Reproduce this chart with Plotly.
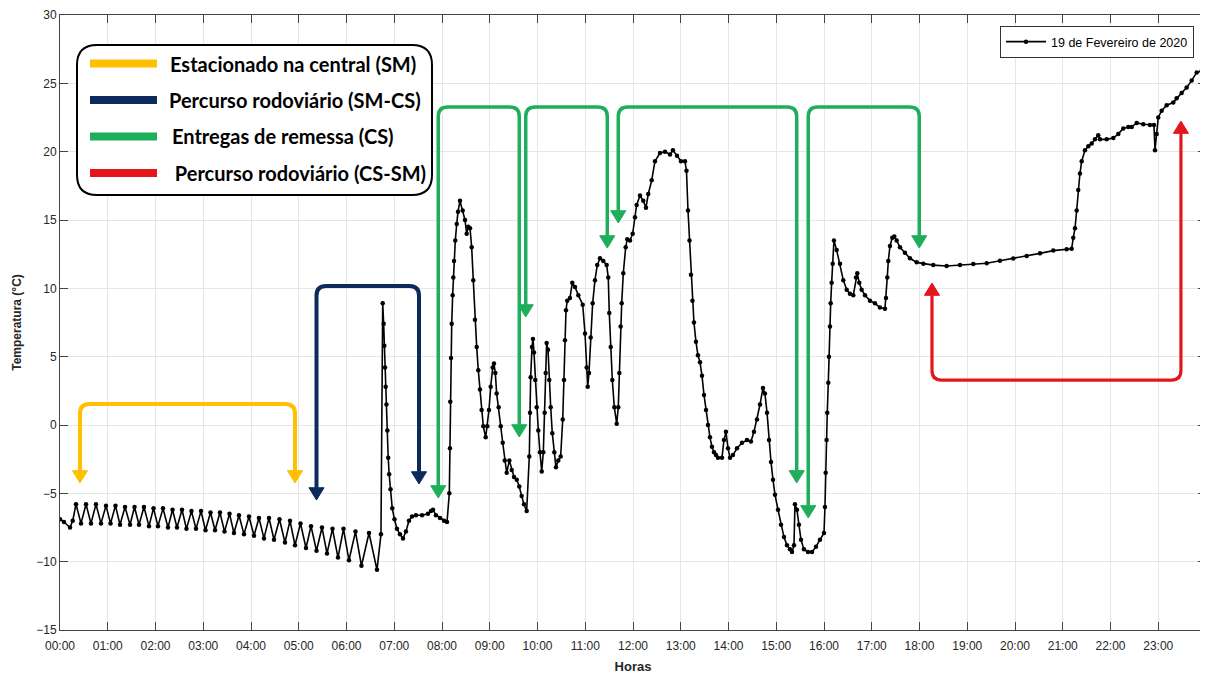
import plotly.graph_objects as go

# ---------------- data (minutes since 00:00, temperature °C) ----------------
minutos = [
    0, 5, 12.6, 16, 20.1, 26.4, 32.7, 38.9, 45.2, 51.5, 57.8, 63.5, 69.7, 75.4, 81.7, 88.0,
    93.6, 99.3, 105.5, 111.8, 117.5, 123.1, 129.4, 135.7, 141.4, 147.0, 153.3, 158.9, 165.2,
    170.9, 177.2, 182.8, 189.1, 194.8, 201.0, 206.7, 213.0, 218.6, 224.9, 231.2, 237.5, 243.8,
    250.0, 256.3, 262.6, 268.9, 275.8, 282.7, 289.0, 295.3, 302.2, 309.1, 315.4, 322.3, 329.2,
    335.5, 342.4, 349.3, 356.2, 363.1, 371.3, 378.8, 388.3, 398.3, 403.3, 405.5,
    406.7, 407.5, 408.4, 409.2, 410.2, 411.3, 412.4, 413.6, 415.3, 417.5, 420.3, 423.4, 427.2,
    431.0, 434.7, 438.5, 442.3, 447.3, 454.9, 462.4, 466.2, 468.7, 472.4, 477.5, 482.5, 486.3,
    489.2, 490.0, 490.4, 491.3, 492.2, 493.4, 494.2, 495.1, 496.7, 498.5, 500.1, 502.6, 506.0,
    508.9, 511.0, 513.0, 515.2, 517.3, 519.3, 521.4, 523.6, 525.6, 527.7, 529.8, 531.9, 534.9,
    536.9, 539.0, 541.2, 543.7, 545.3, 547.0, 548.7, 551.2, 553.8, 556.3, 558.8, 561.3, 564.6,
    567.6, 570.5, 573.9, 577.1, 580.1, 583.0, 586.4, 589.7, 590.6, 591.4, 593.1, 594.3, 595.6,
    597.2, 599.0, 601.0, 603.1, 605.3, 607.3, 609.0, 610.3, 611.5, 613.2, 614.8, 616.6, 618.6,
    621.1, 623.2, 626.1, 629.1, 631.7, 633.3, 634.5, 635.8, 637.4, 640.8, 643.7, 647.1, 651.3,
    656.8, 659.7, 661.8, 663.1, 664.7, 666.8, 669.3, 672.2, 675.1, 678.5, 682.7, 686.9, 688.9,
    690.2, 692.0, 694.0, 696.5, 699.5, 701.5, 702.8, 704.5, 705.8, 707.8, 710.8, 712.8, 716.2,
    719.6, 722.5, 724.6, 728.8, 732.9, 736.3, 739.2, 743.5, 747.6, 753.9, 760.2, 766.5, 770.2,
    775.3, 780.3, 785.3, 787.2, 789.1, 791.0, 792.8, 794.7, 796.6, 799.1, 801.6, 804.2, 806.7,
    809.2, 811.7, 814.2, 816.7, 819.2, 821.8, 824.3, 826.8, 831.8, 834.3, 836.8, 839.4, 841.9,
    845.6, 850.7, 857.0, 863.2, 868.2, 872.0, 875.8, 879.6, 883.3, 885.8, 888.4, 890.9, 893.4,
    895.9, 898.4, 902.2, 906.0, 909.7, 913.5, 917.2, 919.8, 922.3, 923.5, 926.0, 928.5, 931.1,
    934.8, 939.9, 944.9, 949.9, 954.9, 960.0, 961.2, 962.1, 963.3, 964.1, 965.4, 966.2, 967.5,
    968.4, 969.6, 970.9, 972.5, 975.9, 980.1, 984.2, 988.5, 992.6, 996.8, 1000.2, 1001.8,
    1004.3, 1007.3, 1011.5, 1017.8, 1024.0, 1030.3, 1036.6, 1037.9, 1039.5, 1040.8, 1042.9,
    1045.8, 1048.3, 1051.3, 1055.5, 1061.7, 1068.0, 1076.5, 1084.8, 1097.3, 1114.1, 1130.9,
    1147.6, 1164.4, 1181.1, 1197.8, 1214.7, 1231.4, 1248.1, 1264.9, 1271.2, 1273.2, 1275.4, 1277.5,
    1279.5, 1281.6, 1283.8, 1287.9, 1292.1, 1296.4, 1300.5, 1304.6, 1306.8, 1315.2, 1323.5,
    1329.8, 1336.1, 1342.3, 1346.6, 1352.9, 1361.2, 1369.6, 1374.6, 1375.9, 1378.0, 1380.0,
    1384.3, 1390.6, 1398.9, 1403.1, 1409.4, 1415.7, 1422.0, 1428.3, 1434.6, 1439.0,
]
temperatura = [
    -6.9, -7.1, -7.5, -7.0, -5.8, -7.2, -5.8, -7.2, -5.8, -7.2, -5.9, -7.2, -5.9, -7.3, -6.0, -7.3,
    -6.0, -7.3, -6.0, -7.4, -6.1, -7.4, -6.1, -7.5, -6.2, -7.5, -6.2, -7.6, -6.3,
    -7.6, -6.3, -7.7, -6.4, -7.7, -6.4, -7.8, -6.5, -7.9, -6.6, -8.0, -6.7, -8.1,
    -6.8, -8.3, -6.8, -8.4, -6.9, -8.6, -7.0, -8.8, -7.2, -9.0, -7.4, -9.2, -7.5,
    -9.4, -7.6, -9.7, -7.6, -9.9, -7.8, -10.3, -7.9, -10.6, -8.0, 8.9,
    7.4, 5.8, 4.2, 2.8, 1.5, -0.4, -2.4, -3.6, -4.7, -6.1, -6.9, -7.6, -8.0,
    -8.3, -7.8, -7.0, -6.7, -6.6, -6.6, -6.5, -6.3, -6.2, -6.6, -6.8, -7.0, -7.1,
    -5.0, -1.7, 1.7, 4.9, 7.4, 9.5, 10.8, 12.0, 13.5, 14.7, 15.6, 16.4, 15.7,
    15.0, 14.0, 14.5, 14.4, 13.0, 10.6, 7.7, 5.7, 4.0, 2.6, 1.1, -0.1, -0.9,
    -0.1, 1.1, 2.8, 4.2, 4.5, 3.8, 2.3, 1.3, -0.1, -1.3, -2.6, -3.5, -2.6,
    -3.3, -3.8, -4.0, -4.5, -5.2, -5.8, -6.3, -2.3, 0.9, 3.5, 5.7, 6.3, 5.3,
    3.3, 1.3, -0.4, -2.0, -3.4, -2.0, 0.9, 3.8, 6.0, 5.5, 3.3, 1.3, -0.6,
    -2.0, -3.1, -2.6, -2.3, 0.4, 3.3, 6.2, 8.4, 9.1, 9.3, 10.4, 10.1, 9.5,
    8.8, 6.7, 4.2, 2.8, 3.8, 6.4, 8.9, 10.6, 11.7, 12.2, 12.0, 11.7, 10.8,
    8.2, 5.7, 3.3, 1.3, 0.1, 1.3, 3.8, 7.2, 8.9, 11.1, 13.0, 13.6, 13.5,
    14.0, 15.2, 16.1, 16.8, 16.4, 15.9, 16.9, 17.9, 19.3, 19.9, 20.0, 19.8, 20.1,
    19.7, 19.3, 19.3, 18.6, 15.7, 13.5, 11.0, 9.1, 7.5, 6.1, 5.1, 4.6, 3.6,
    2.2, 1.1, 0.0, -0.9, -1.6, -2.0, -2.2, -2.4, -2.4, -1.1, -0.5, -1.7, -2.4,
    -2.2, -1.7, -1.3, -1.1, -1.2, -0.5, 0.4, 1.5, 2.7, 2.3, 0.9, -1.1, -2.7,
    -4.0, -5.1, -6.2, -7.3, -8.2, -8.8, -9.1, -9.3, -8.8, -5.8, -6.2, -7.3, -8.4,
    -9.1, -9.3, -9.3, -8.9, -8.4, -7.9, -6.0, -3.5, -1.1, 0.9, 3.1, 5.0, 7.2,
    8.9, 10.4, 11.8, 13.5, 12.8, 11.8, 10.6, 9.9, 9.6, 9.5, 10.8, 11.1,
    10.4, 9.9, 9.5, 9.1, 8.9, 8.6, 8.5, 9.3, 10.8, 12.0, 13.1,
    13.7, 13.8, 13.5, 13.0, 12.6, 12.2, 11.9, 11.8, 11.7, 11.63, 11.71,
    11.78, 11.83, 12.02, 12.19, 12.36, 12.56, 12.76, 12.86, 12.9, 13.7, 14.4, 15.7,
    17.2, 18.4, 19.3, 20.1, 20.4, 20.6, 20.9, 21.2, 20.9, 20.9, 21.0,
    21.3, 21.7, 21.8, 21.8, 22.1, 22.0, 21.95, 21.95, 20.1, 21.3, 22.5,
    23.0, 23.4, 23.6, 23.9, 24.3, 24.7, 25.2, 25.8, 25.9, 25.8,
]

serie_nome = "19 de Fevereiro de 2020"
x_ticks = [h * 60 for h in range(24)]
rotulos_horas = ["%02d:00" % h for h in range(24)]
y_ticks = [-15, -10, -5, 0, 5, 10, 15, 20, 25, 30]

legenda_itens = [
    "Estacionado na central (SM)",
    "Percurso rodoviário (SM-CS)",
    "Entregas de remessa (CS)",
    " Percurso rodoviário (CS-SM)",
]
legenda_cores = ["#FFC000", "#0C2A5C", "#1FAE5B", "#E3161C"]

# bracket arrows: color, width, x_left, x_right, level, tip_left, tip_right, pointing_up
setas = [
    (legenda_cores[0], 4.0, 25.1, 295.3, 1.54, -4.24, -4.24, False),
    (legenda_cores[1], 4.0, 322.3, 451.1, 10.17, -5.49, -4.32, False),
    (legenda_cores[2], 3.5, 475.3, 577.1, 23.27, -5.34, -0.88, False),
    (legenda_cores[2], 3.5, 585.2, 687.7, 23.27, 7.90, 12.95, False),
    (legenda_cores[2], 3.5, 701.5, 925.7, 23.27, 14.78, -4.24, False),
    (legenda_cores[2], 3.5, 940.2, 1079.7, 23.27, -6.80, 12.95, False),
    (legenda_cores[3], 3.2, 1095.7, 1408.5, 3.29, 10.39, 22.24, True),
]

fig = go.Figure()
fig.add_trace(go.Scatter(
    x=minutos, y=temperatura, mode="lines+markers", name=serie_nome,
    line=dict(color="black", width=1.6),
    marker=dict(color="black", size=4.5),
))

shapes = []
RX, RY = 12.0, 0.7
AW, AH = 9.5, 0.9
for cor, lw, xl, xr, lev, tl, tr, up in setas:
    s = -1 if up else 1
    path = (f"M {xl},{tl + s*AH} L {xl},{lev - s*RY} Q {xl},{lev} {xl + RX},{lev} "
            f"L {xr - RX},{lev} Q {xr},{lev} {xr},{lev - s*RY} L {xr},{tr + s*AH}")
    shapes.append(dict(type="path", path=path, xref="x", yref="y",
                       line=dict(color=cor, width=lw), layer="above"))
    for xt, yt in ((xl, tl), (xr, tr)):
        tri = f"M {xt - AW},{yt + s*AH} L {xt + AW},{yt + s*AH} L {xt},{yt} Z"
        shapes.append(dict(type="path", path=tri, xref="x", yref="y",
                           fillcolor=cor, line=dict(color=cor, width=1), layer="above"))

# custom legend box (paper coords; plot area spans page px 60..1206, 15..630)
W, H = 1146.0, 615.0
def px(x):
    return (x - 60) / W
def py(y):
    return (630 - y) / H

bx0, bx1, by0, by1 = px(77), px(432), py(195), py(45)
rx, ry = 20 / W, 20 / H
box = (f"M {bx0 + rx},{by1} L {bx1 - rx},{by1} Q {bx1},{by1} {bx1},{by1 - ry} "
       f"L {bx1},{by0 + ry} Q {bx1},{by0} {bx1 - rx},{by0} L {bx0 + rx},{by0} "
       f"Q {bx0},{by0} {bx0},{by0 + ry} L {bx0},{by1 - ry} Q {bx0},{by1} {bx0 + rx},{by1} Z")
shapes.append(dict(type="path", path=box, xref="paper", yref="paper",
                   fillcolor="white", line=dict(color="black", width=2), layer="above"))

annotations = []
ys = [63.5, 100, 136.5, 173]
xs_text = [168, 167, 170, 168]
for i, (txt, cor) in enumerate(zip(legenda_itens, legenda_cores)):
    shapes.append(dict(type="line", xref="paper", yref="paper",
                       x0=px(90), x1=px(157), y0=py(ys[i]), y1=py(ys[i]),
                       line=dict(color=cor, width=8), layer="above"))
    annotations.append(dict(x=px(xs_text[i]), y=py(ys[i]), xref="paper", yref="paper",
                            text="<b>" + txt + "</b>", showarrow=False,
                            xanchor="left", yanchor="middle",
                            font=dict(family="Lato", size=20, color="black")))

# page body has an 8px margin: figure is 1200x667 so that it fills the 1208x675 window
fig.update_layout(
    width=1200, height=667,
    margin=dict(l=52, r=2, t=7, b=45),
    paper_bgcolor="white", plot_bgcolor="white",
    shapes=shapes, annotations=annotations,
    showlegend=True,
    legend=dict(x=px(1194), y=py(26), xanchor="right", yanchor="top",
                bgcolor="white", bordercolor="#333333", borderwidth=1,
                font=dict(family="Liberation Sans, Arial", size=12.5, color="black"),
                itemwidth=40, tracegroupgap=0),
    font=dict(family="Liberation Sans, Arial", size=12, color="#262626"),
)
fig.update_xaxes(
    range=[0, 1440], tickvals=x_ticks, ticktext=rotulos_horas,
    showgrid=True, gridcolor="#e6e6e6", gridwidth=1,
    ticks="inside", ticklen=8, tickcolor="#444444",
    showline=True, linecolor="#444444", linewidth=1, mirror="ticks",
    zeroline=False, automargin=False, ticklabelstandoff=5,
    tickfont=dict(size=12, color="#262626"),
    title=dict(text="<b>Horas</b>", font=dict(size=13, color="#262626"), standoff=9),
)
fig.update_yaxes(
    range=[-15, 30], tickvals=y_ticks,
    showgrid=True, gridcolor="#e6e6e6", gridwidth=1,
    ticks="inside", ticklen=8, tickcolor="#444444",
    showline=True, linecolor="#444444", linewidth=1, mirror="ticks",
    zeroline=False, automargin=False,
    tickfont=dict(size=12, color="#262626"),
    title=dict(text="<b>Temperatura (°C)</b>", font=dict(size=12, color="#262626"), standoff=12),
)

fig.write_html("out.html")
